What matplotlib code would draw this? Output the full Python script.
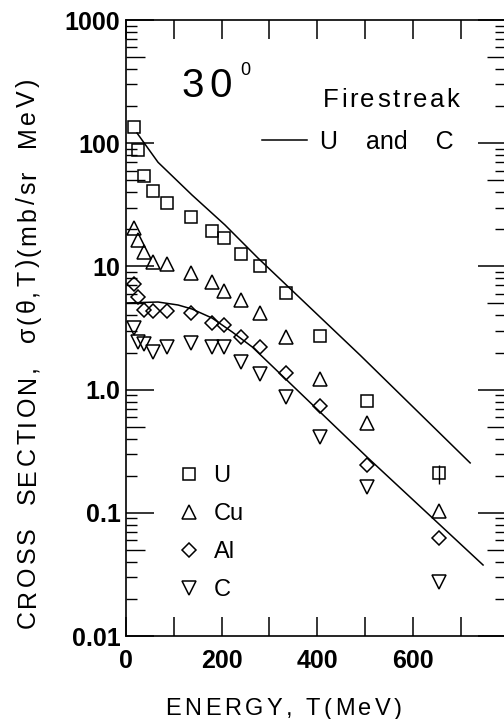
import matplotlib
matplotlib.use("Agg")
import matplotlib.pyplot as plt
from matplotlib.ticker import LogLocator, NullLocator
from matplotlib.font_manager import FontProperties, findfont, get_font

FONT = "Liberation Sans"
plt.rcParams["font.family"] = [FONT, "DejaVu Sans"]

# kinetic energy of the emitted particle (MeV), same for every target
energy = [16, 25, 37, 56, 85, 135, 180, 205, 240, 280, 335, 405, 505, 655]

# cross sections at 30 deg (mb/sr MeV)
sigma_U = [135, 88, 54, 41, 33, 25, 19.4, 17, 12.6, 10.1, 6.1, 2.72, 0.81, 0.21]
sigma_Cu = [20.5, 16.4, 13.1, 10.9, 10.5, 8.8, 7.5, 6.3, 5.3, 4.2, 2.67, 1.22, 0.54, 0.104]
sigma_Al = [7.2, 5.65, 4.43, 4.35, 4.35, 4.19, 3.47, 3.35, 2.67, 2.22, 1.36, 0.74, 0.245, 0.062]
sigma_C = [3.16, 2.43, 2.34, 2.02, 2.22, 2.39, 2.22, 2.22, 1.68, 1.34, 0.87, 0.41, 0.162, 0.0274]

# only the last U point carries a visible error bar
err_U_low = [0] * 13 + [0.039]
err_U_high = [0] * 13 + [0.034]

# firestreak model curves
fire_U_T = [23, 67, 138, 207, 276, 490, 720]
fire_U = [121, 70, 38, 21.7, 11.7, 1.9, 0.254]
fire_C_T = [2, 67, 109, 138, 180, 222, 264, 504, 747]
fire_C = [5.05, 5.14, 4.86, 4.51, 3.81, 2.94, 2.22, 0.284, 0.0377]

ytick_vals = [0.01, 0.1, 1, 10, 100, 1000]
ytick_labels = ["0.01", "0.1", "1.0", "10", "100", "1000"]
xtick_vals = [0, 200, 400, 600]
xtick_minor = [100, 300, 500, 700]

W, H = 504, 719


def spaced_text(fig, x, y, s, size, track, vertical=False, weight="normal"):
    # glyph-by-glyph layout so the lettering can be spread out; x, y in px from top-left
    fp = FontProperties(family=FONT, size=size, weight=weight)
    font = get_font(findfont(fp))
    font.set_size(size, fig.dpi)
    pos = 0.0
    for ch in s:
        px, py = (x, y - pos) if vertical else (x + pos, y)
        fig.text(px / W, 1 - py / H, ch, fontproperties=fp,
                 rotation=90 if vertical else 0, rotation_mode="anchor",
                 ha="left", va="baseline")
        pos += font.load_char(ord(ch)).linearHoriAdvance / 65536 + track


fig = plt.figure(figsize=(W / 100, H / 100), dpi=100)
rect = [126 / W, 83 / H, 380 / W, 616 / H]
ax = fig.add_axes(rect)

mk = dict(ls="none", mfc="none", mec="black", mew=1.1, color="black")
h_U = ax.errorbar(energy, sigma_U, yerr=[err_U_low, err_U_high], marker="s", ms=8,
                  elinewidth=1.0, capsize=0, **mk)
h_Cu, = ax.plot(energy, sigma_Cu, marker="^", ms=9.5, **mk)
h_Al, = ax.plot(energy, sigma_Al, marker="D", ms=6.8, **mk)
h_C, = ax.plot(energy, sigma_C, marker="v", ms=9.5, **mk)

fire_line, = ax.plot(fire_U_T, fire_U, color="black", lw=1.1)
ax.plot(fire_C_T, fire_C, color="black", lw=1.1)

ax.set_yscale("log")
ax.set_xlim(0, 795)
ax.set_ylim(0.01, 1000)

ax.set_yticks(ytick_vals, ytick_labels, fontsize=18, fontweight="bold")
ax.set_xticks(xtick_vals, [str(v) for v in xtick_vals], fontsize=18, fontweight="bold")
ax.set_xticks(xtick_minor, minor=True)
ax.yaxis.set_minor_locator(LogLocator(base=10, subs=[2, 3, 4, 6, 7, 8, 9], numticks=20))

ax.tick_params(which="both", direction="in", top=True, right=True, color="black")
ax.tick_params(axis="y", which="major", length=20, width=1.1, pad=4)
ax.tick_params(axis="y", which="minor", length=8, width=1.0)
ax.tick_params(axis="x", which="both", length=14, width=1.1, pad=9)
for sp in ax.spines.values():
    sp.set_linewidth(1.2)

# medium ticks at 5 x 10^n on both sides
ax5 = fig.add_axes(rect, frameon=False)
ax5.set_yscale("log")
ax5.set_xlim(ax.get_xlim())
ax5.set_ylim(ax.get_ylim())
ax5.set_xticks([])
ax5.set_yticks([0.05, 0.5, 5, 50, 500])
ax5.yaxis.set_minor_locator(NullLocator())
ax5.tick_params(axis="y", direction="in", left=True, right=True, length=14,
                width=1.0, labelleft=False)

leg = ax.legend([h_U[0], h_Cu, h_Al, h_C], ["U", "Cu", "Al", "C"], loc="upper left",
                bbox_to_anchor=(0.134, 0.277), frameon=False, fontsize=17,
                handlelength=1.0, handletextpad=0.55, labelspacing=0.67,
                borderpad=0, borderaxespad=0, numpoints=1)
ax.add_artist(leg)
ax.legend([fire_line], ["U    and    C"], loc="upper left", bbox_to_anchor=(0.358, 0.822),
          frameon=False, fontsize=18, handlelength=1.8, handletextpad=0.5,
          borderpad=0, borderaxespad=0)

spaced_text(fig, 181, 97, "30", 29, 6)
fig.text(240 / W, 1 - 75 / H, "0", fontsize=13, ha="left", va="baseline")
spaced_text(fig, 323, 107, "Firestreak", 18.5, 2.4)

spaced_text(fig, 165, 715, "ENERGY, T(MeV)", 17, 3.5)
spaced_text(fig, 35, 628, "CROSS  SECTION,  σ(θ,T)(mb/sr  MeV)", 18, 3, vertical=True)

fig.savefig("out.png", dpi=100)
